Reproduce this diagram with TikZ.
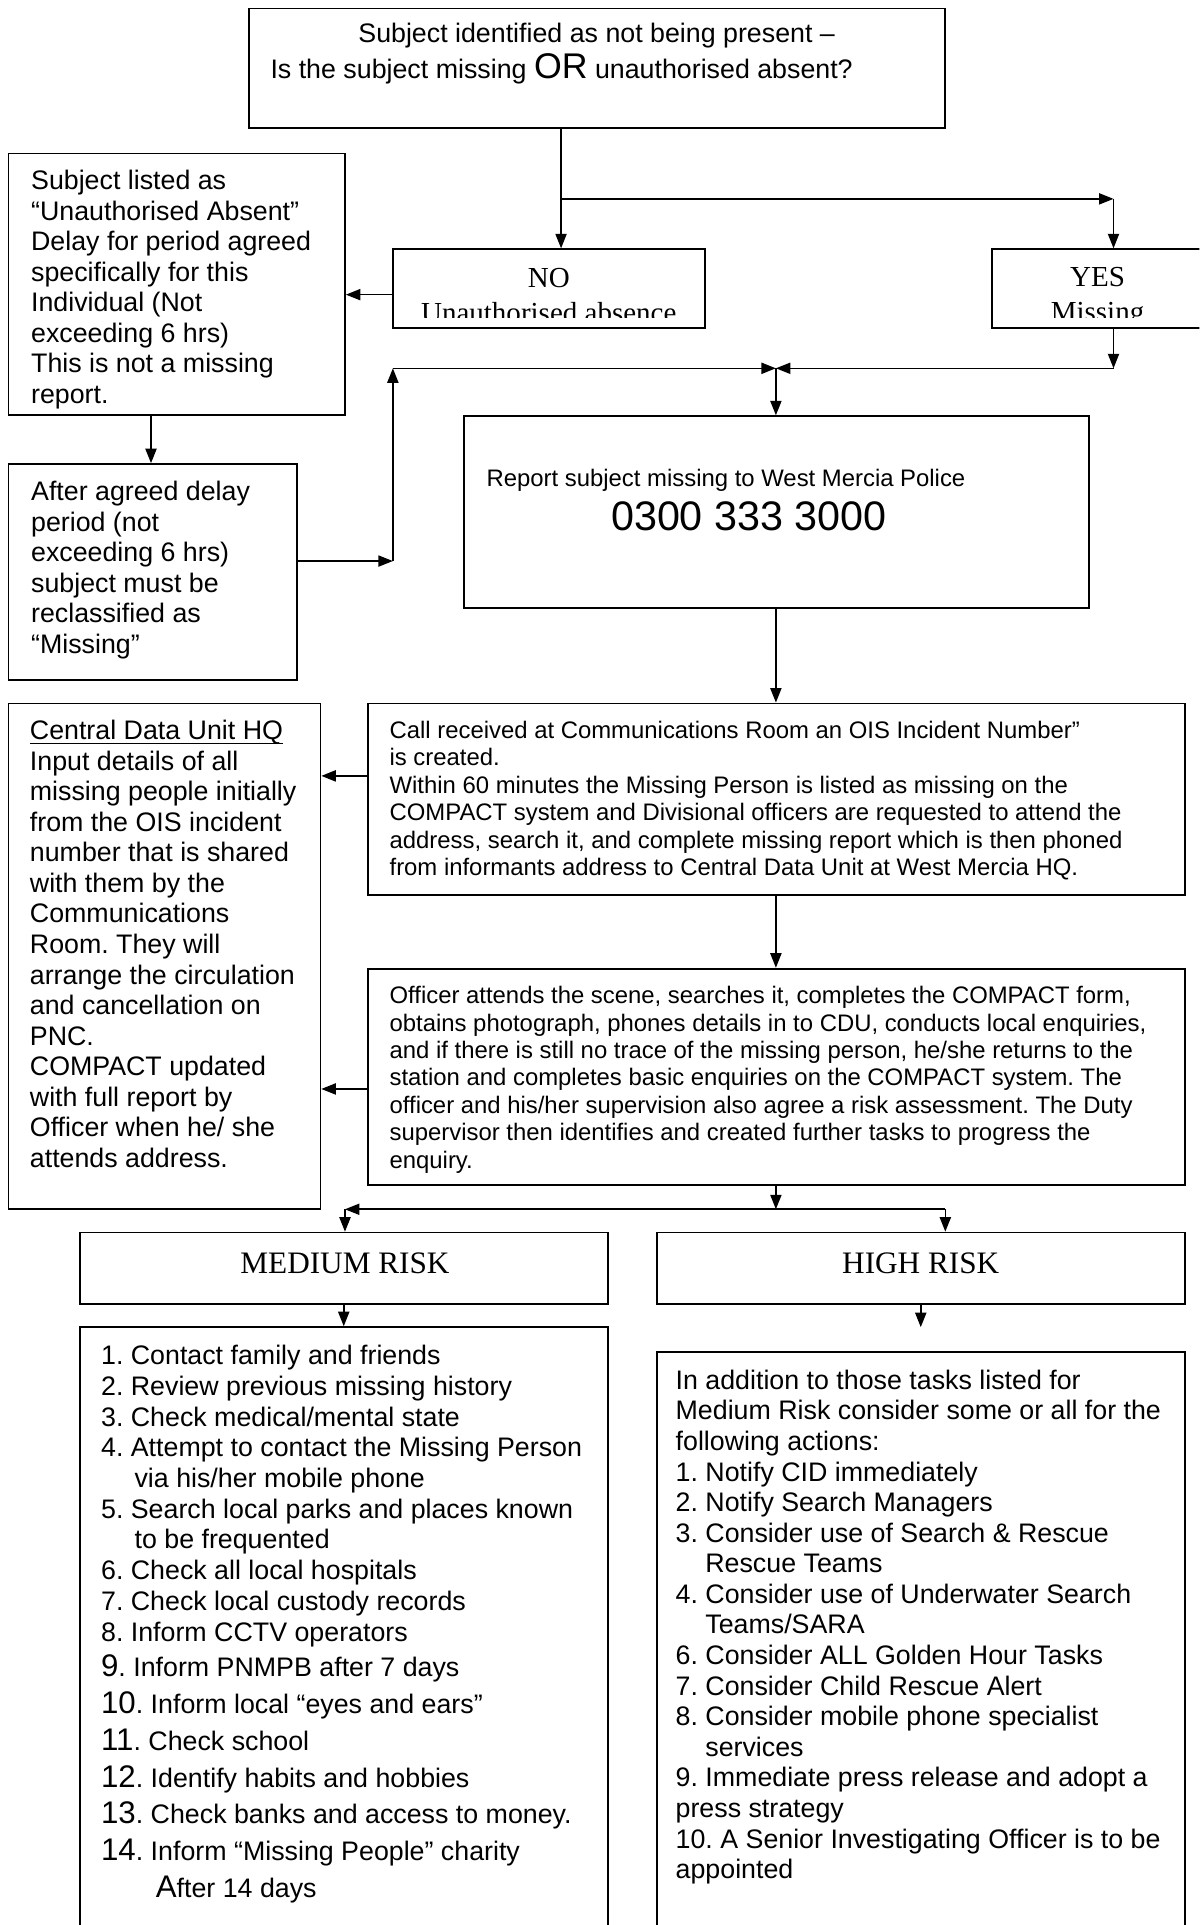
\documentclass[tikz,border=0pt]{standalone}
\usepackage{fontspec}
\setmainfont{Liberation Sans}
\newfontfamily\timesfont{Liberation Serif}
\usetikzlibrary{fit,arrows.meta}
\frenchspacing

\newcommand{\bignum}[1]{{\fontsize{14}{16}\selectfont #1}}

\begin{document}
\begin{tikzpicture}[x=0.55pt, y=-0.55pt,
  box/.style={draw, line width=0.8pt, inner sep=0pt},
  arr/.style={line width=0.7pt, -{Triangle[length=6.5pt,width=5pt]}},
  txt/.style={anchor=north west, align=left, inner sep=0pt, font={\fontsize{12}{13.67}\selectfont}},
  small/.style={anchor=north west, align=left, inner sep=0pt, font={\fontsize{10.7}{12.3}\selectfont}},
  serif/.style={anchor=north, align=center, inner sep=0pt, font={\timesfont\fontsize{13}{15.7}\selectfont}}]

\useasboundingbox (0,0) rectangle (977,1568);
\clip (0,0) rectangle (977,1568);

% --- Cajas ---
\node[box, fit={(203,7) (770,104)}]     (question) {};
\node[box, fit={(320,203) (574,267)}]   (no) {};
\node[box, fit={(808,203) (995,267)}]   (yes) {};
\node[box, fit={(7,125) (281,338)}]     (absent) {};
\node[box, fit={(7,378) (242,554)}]     (delay) {};
\node[box, fit={(378,339) (887,495)}]   (report) {};
\node[box, fit={(300,573) (965,729)}]   (call) {};
\node[box, fit={(7,573) (261,985)}]     (cdu) {};
\node[box, fit={(300,789) (965,965)}]   (officer) {};
\node[box, fit={(65,1004) (495,1062)}]  (medium) {};
\node[box, fit={(535,1004) (965,1062)}] (high) {};
\node[box, fit={(65,1081) (495,1600)}]  (medlist) {};
\node[box, fit={(535,1101) (965,1600)}] (highlist) {};

% --- Textos ---
\node[anchor=base, inner sep=0pt, font={\fontsize{12}{14}\selectfont}] (questiontop) at (486,35)
  {Subject identified as not being present –};
\node[anchor=base west, inner sep=0pt, font={\fontsize{12}{14}\selectfont}] (questionbot) at (220,64)
  {Is the subject missing {\fontsize{16}{16}\selectfont OR} unauthorised absent?};

\begin{scope}
  \clip (no.north west) rectangle (no.east |- 0,259);
  \node[serif] (notext) at (447,218.5) {NO\\Unauthorised absence};
\end{scope}
\begin{scope}
  \clip (yes.north west) rectangle (yes.east |- 0,259);
  \node[serif] (yestext) at (894,217) {YES\\Missing};
\end{scope}

\node[txt] (absenttext) at (25,138.5) {Subject listed as\\“Unauthorised Absent”\\Delay for period agreed\\specifically for this\\Individual (Not\\exceeding 6 hrs)\\This is not a missing\\report.};

\node[txt] (delaytext) at (25,391.5) {After agreed delay\\period (not\\exceeding 6 hrs)\\subject must be\\reclassified as\\“Missing”};

\node[anchor=base west, inner sep=0pt, font={\fontsize{10.7}{12.3}\selectfont}] (reporttext) at (396,396) {Report subject missing to West Mercia Police};
\node[anchor=base, inner sep=0pt, font={\fontsize{18.5}{20}\selectfont}] (phone) at (610,432) {0300 333 3000};

\node[small] (calltext) at (317,587) {Call received at Communications Room an OIS Incident Number”\\is created.\\Within 60 minutes the Missing Person is listed as missing on the\\COMPACT system and Divisional officers are requested to attend the\\address, search it, and complete missing report which is then phoned\\from informants address to Central Data Unit at West Mercia HQ.};

\node[txt] (cdutext) at (24,586.5) {\underline{\raisebox{0pt}[\height][0pt]{Central Data Unit HQ}}\\Input details of all\\missing people initially\\from the OIS incident\\number that is shared\\with them by the\\Communications\\Room. They will\\arrange the circulation\\and cancellation on\\PNC.\\COMPACT updated\\with full report by\\Officer when he/ she\\attends address.};

\node[small] (officertext) at (317,803) {Officer attends the scene, searches it, completes the COMPACT form,\\obtains photograph, phones details in to CDU, conducts local enquiries,\\and if there is still no trace of the missing person, he/she returns to the\\station and completes basic enquiries on the COMPACT system. The\\officer and his/her supervision also agree a risk assessment. The Duty\\supervisor then identifies and created further tasks to progress the\\enquiry.};

\node[anchor=base, inner sep=0pt, font={\timesfont\fontsize{14}{16}\selectfont}] (mediumtext) at (281,1037) {MEDIUM RISK};
\node[anchor=base, inner sep=0pt, font={\timesfont\fontsize{14}{16}\selectfont}] (hightext) at (750,1037) {HIGH RISK};

\node[txt, font={\fontsize{12}{13.75}\selectfont}] (medtasks) at (82,1095.5) {1. Contact family and friends\\2. Review previous missing history\\3. Check medical/mental state\\4. Attempt to contact the Missing Person\\\hspace*{15pt}via his/her mobile phone\\5. Search local parks and places known\\\hspace*{15pt}to be frequented\\6. Check all local hospitals\\7. Check local custody records\\8. Inform CCTV operators\\[2.2pt]\bignum{9}. Inform PNMPB after 7 days\\[2.75pt]\bignum{10}. Inform local “eyes and ears”\\[2.75pt]\bignum{11}. Check school\\[2.75pt]\bignum{12}. Identify habits and hobbies\\[2.75pt]\bignum{13}. Check banks and access to money.\\[2.75pt]\bignum{14}. Inform “Missing People” charity\\[2.75pt]\hspace*{24.5pt}\bignum{A}fter 14 days};

\node[txt, font={\fontsize{12}{13.7}\selectfont}] (hightasks) at (550,1115.5) {In addition to those tasks listed for\\Medium Risk consider some or all for the\\following actions:\\1. Notify CID immediately\\2. Notify Search Managers\\3. Consider use of Search \& Rescue\\\hspace*{13.3pt}Rescue Teams\\4. Consider use of Underwater Search\\\hspace*{13.3pt}Teams/SARA\\6. Consider ALL Golden Hour Tasks\\7. Consider Child Rescue Alert\\8. Consider mobile phone specialist\\\hspace*{13.3pt}services\\9. Immediate press release and adopt a\\press strategy\\10. A Senior Investigating Officer is to be\\appointed};

% --- Puntos de union ---
\coordinate (j1) at (457,162);
\coordinate (j1r) at (907,162);
\coordinate (j2) at (320,457);
\coordinate (j3) at (320,300);
\coordinate (j4) at (632,300);
\coordinate (j5) at (907,300);
\coordinate (j6) at (632,985);
\coordinate (j7) at (281,985);
\coordinate (j8) at (770,985);
\coordinate (hend) at (750,1081);

% --- Flechas ---
\draw[arr] (j1 |- question.south) -- (j1 |- no.north);
\draw[arr] (j1) -- (j1r);
\draw[arr] (j1r) -- (j1r |- yes.north);
\draw[arr] (no.west |- 0,240) -- (absent.east |- 0,240);
\draw[arr] (absent.south -| 123,0) -- (delay.north -| 123,0);

\draw[arr] (delay.east |- j2) -- (j2);
\draw[arr] (j2) -- (j3);
\draw[arr] (j3) -- (j4);
\draw[arr] (j5 |- yes.south) -- (j5);
\draw[arr] (j5) -- (j4);
\draw[arr] (j4) -- (j4 |- report.north);

\draw[arr] (report.south -| j4) -- (call.north -| j4);
\draw[arr] (call.west |- 0,632) -- (cdu.east |- 0,632);
\draw[arr] (call.south -| j4) -- (officer.north -| j4);
\draw[arr] (officer.west |- 0,887) -- (cdu.east |- 0,887);

\draw[arr] (officer.south -| j6) -- (j6);
\draw[arr] (j6) -- (j7);
\draw[arr] (j7) -- (j7 |- medium.north);
\draw[line width=0.7pt] (j6) -- (j8);
\draw[arr] (j8) -- (j8 |- high.north);

\draw[arr] (medium.south) -- (medium.south |- medlist.north);
\draw[arr] (high.south) -- (hend);

\end{tikzpicture}
\end{document}
